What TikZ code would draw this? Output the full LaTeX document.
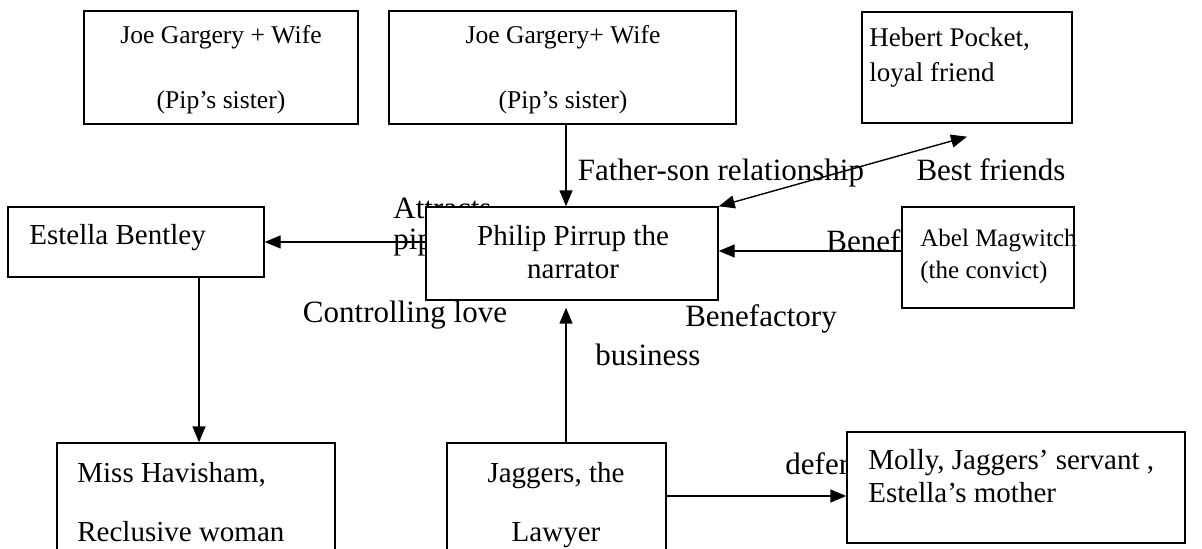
\documentclass[tikz,border=0pt]{standalone}
\usepackage{fontspec}
\setmainfont{Liberation Serif}
\usetikzlibrary{arrows.meta,fit}
\begin{document}
\begin{tikzpicture}[x=0.5pt,y=-0.5pt,
  box/.style={draw, line width=0.7pt, fill=white, inner sep=0pt},
  boxtxt/.style={font=\fontsize{14.5}{17}\selectfont, inner sep=0pt},
  hebtxt/.style={font=\fontsize{13.5}{16}\selectfont, inner sep=0pt},
  abeltxt/.style={font=\fontsize{12.5}{15}\selectfont, inner sep=0pt},
  joetxt/.style={font=\fontsize{12.8}{15}\selectfont, inner sep=0pt},
  lbl/.style={font=\fontsize{15.5}{18}\selectfont, inner sep=0pt},
  arr/.style={line width=0.7pt, -{Triangle[length=8pt,width=6.5pt]}},
  arrr/.style={line width=0.7pt, {Triangle[length=8pt,width=6.5pt]}-{Triangle[length=8pt,width=6.5pt]}}]
\useasboundingbox (0,0) rectangle (1202,549);
\clip (0,0) rectangle (1202,549);
\fill[white] (0,0) rectangle (1202,549);

% labels (drawn first so boxes may cover them)
\node[lbl, anchor=base west] (lAttr) at (393,219) {Attracts};
\node[lbl, anchor=base west] (lPip) at (393,250) {pip};
\node[lbl, anchor=base] (lFather) at (721,181) {Father-son relationship};
\node[lbl, anchor=base] (lBest) at (991,181) {Best friends};
\node[lbl, anchor=base west] (lBenef) at (826,252) {Benef};
\node[lbl, anchor=base] (lCtrl) at (405,323) {Controlling love};
\node[lbl, anchor=base] (lBenefact) at (761,327) {Benefactory};
\node[lbl, anchor=base] (lBus) at (648,365) {business};
\node[lbl, anchor=base west] (lDefer) at (785,474) {defer};

% boxes
\node[box, fit={(84,11) (358,124)}] (joeA) {};
\node[box, fit={(389,11) (736,124)}] (joeB) {};
\node[box, fit={(862,12) (1072,123)}] (heb) {};
\node[box, fit={(8,207) (264,277)}] (est) {};
\node[box, fit={(426,207) (718,300)}] (phil) {};
\node[box, fit={(902,207) (1074,308)}] (abel) {};
\node[box, fit={(57,443) (335,565)}] (miss) {};
\node[box, fit={(447,443) (666,565)}] (jag) {};
\node[box, fit={(847,432) (1185,543)}] (molly) {};

% box texts
\node[joetxt, anchor=base] (tJA1) at (221,44) {Joe Gargery + Wife};
\node[joetxt, anchor=base] (tJA2) at (221,109) {(Pip’s sister)};
\node[joetxt, anchor=base] (tJB1) at (563,44) {Joe Gargery+ Wife};
\node[joetxt, anchor=base] (tJB2) at (563,109) {(Pip’s sister)};
\node[hebtxt, anchor=base west] (tH1) at (869,47) {Hebert Pocket,};
\node[hebtxt, anchor=base west] (tH2) at (869,82) {loyal friend};
\node[boxtxt, anchor=base west] (tE1) at (29,245) {Estella Bentley};
\node[boxtxt, anchor=base] (tP1) at (573,246) {Philip Pirrup the};
\node[boxtxt, anchor=base] (tP2) at (573,279) {narrator};
\node[abeltxt, anchor=base west] (tA1) at (920,247) {Abel Magwitch};
\node[abeltxt, anchor=base west] (tA2) at (920,279) {(the convict)};
\node[boxtxt, anchor=base west] (tM1) at (77,482) {Miss Havisham,};
\node[boxtxt, anchor=base west] (tM2) at (77,541) {Reclusive woman};
\node[boxtxt, anchor=base] (tJ1) at (556,482) {Jaggers, the};
\node[boxtxt, anchor=base] (tJ2) at (556,541) {Lawyer};
\node[boxtxt, anchor=base west] (tMo1) at (868,469) {Molly, Jaggers’ servant ,};
\node[boxtxt, anchor=base west] (tMo2) at (868,502) {Estella’s mother};

% connectors
\coordinate (j2s) at ([xshift=1.75pt]joeB.south);
\draw[arr] (j2s) -- (j2s |- phil.north);

\draw[arr] (phil.west |- est.east) -- (est.east);

\coordinate (abw) at ([yshift=3.25pt]abel.west);
\draw[arr] (abw) -- (abw -| phil.east);

\coordinate (hebtip) at ([yshift=-6.5pt]heb.south);
\draw[arrr] (phil.north east) -- (hebtip);

\coordinate (mn) at ([xshift=1.5pt]miss.north);
\draw[arr] (mn |- est.south) -- (mn);

\coordinate (jn) at ([xshift=4.75pt]jag.north);
\coordinate (pb0) at (jn |- phil.south);
\coordinate (pb) at ([yshift=-3.5pt]pb0);
\draw[arr] (jn) -- (pb);

\coordinate (mw) at ([yshift=-4.25pt]molly.west);
\draw[arr] (mw -| jag.east) -- (mw);
\end{tikzpicture}
\end{document}
